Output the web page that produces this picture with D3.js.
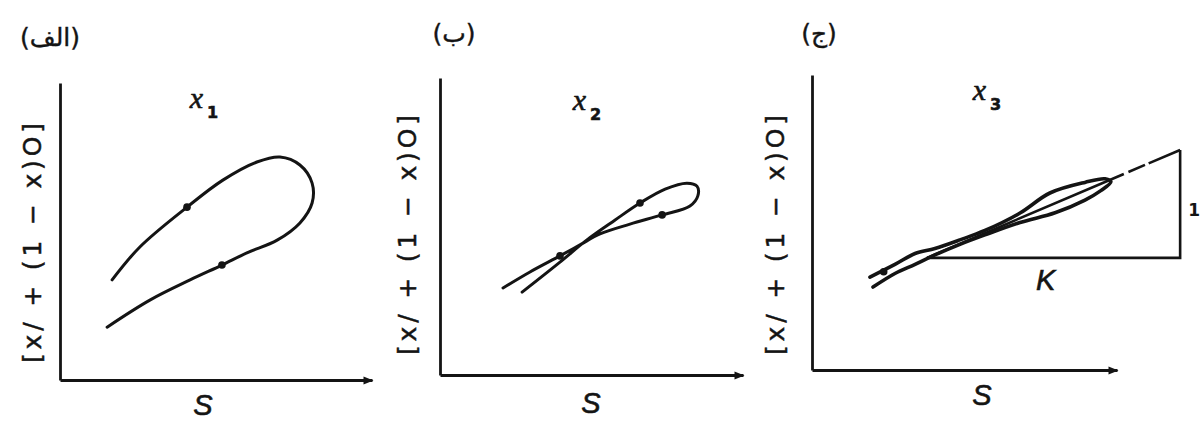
<!DOCTYPE html>
<html>
<head>
<meta charset="utf-8">
<script src="https://cdn.jsdelivr.net/npm/d3@7"></script>
<style>
  body { margin: 0; background: #fff; }
</style>
</head>
<body>
<script>
const svgW = 1201;
const svgH = 422;

// labels
const panelTags = ['(الف)', '(ب)', '(ج)'];
const varSubs = ['1', '2', '3'];
const yLabel = '[x/ + (1 − x)O]';
const xLabel = 'S';

// loop curves, axis units (S, y) on 0..10
const loop1 = [[1.67,3.37],[2.56,4.48],[4.07,5.82],[5.22,6.73],[6.31,7.34],[7.05,7.51],
  [7.69,7.24],[8.08,6.63],[8.08,5.96],[7.69,5.29],[6.96,4.71],[5.99,4.28],[5.19,3.87],
  [4.17,3.37],[2.88,2.69],[1.51,1.78]];
const dots1 = [[4.07,5.82],[5.19,3.87]];

const loop2 = [[2.71,2.79],[3.96,3.80],[4.85,4.55],[5.78,5.22],[6.60,5.79],[7.43,6.26],
  [8.15,6.46],[8.48,6.36],[8.51,6.03],[8.25,5.69],[7.33,5.39],[6.27,5.08],[5.28,4.75],
  [4.62,4.38],[3.96,4.01],[2.97,3.47],[2.08,2.93]];
const dots2 = [[6.60,5.79],[7.33,5.39],[3.96,4.01]];

const loop3 = [[1.90,3.15],[2.72,3.58],[3.38,3.95],[4.03,4.12],[4.85,4.41],[5.67,4.73],
  [6.82,5.32],[7.80,6.00],[8.95,6.36],[9.61,6.48],[9.80,6.38],[9.47,6.08],[8.95,5.76],
  [7.97,5.33],[6.82,5.00],[5.67,4.58],[4.85,4.26],[4.03,3.90],[3.38,3.58],[2.72,3.27],
  [2.00,2.81]];
const dots3 = [[2.35,3.33]];

// slope triangle (K across, 1 up)
const slopeTri = [[3.77,3.80],[12.07,7.46],[12.07,3.80]];

const loops = [loop1, loop2, loop3];
const dots = [dots1, dots2, dots3];

// panel frames (pixels)
const panels = [
  { ox: 60,  oy: 380, xEnd: 372,  yTop: 83, tag: [50, 46],  v: [204, 108], s: [203, 415], yl: [32, 243] },
  { ox: 440, oy: 375, xEnd: 743,  yTop: 78, tag: [454, 42], v: [587, 110], s: [591, 413], yl: [407, 235] },
  { ox: 812, oy: 370, xEnd: 1117, yTop: 75, tag: [819, 42], v: [987, 100], s: [982, 405], yl: [775, 235] }
];

const ink = '#141414';

const svg = d3.select('body')
  .append('svg')
  .attr('width', svgW)
  .attr('height', svgH)
  .style('background', '#fff');

svg.append('defs').append('marker')
  .attr('id', 'arrow')
  .attr('viewBox', '0 0 10 10')
  .attr('refX', 9).attr('refY', 5)
  .attr('markerWidth', 14).attr('markerHeight', 10)
  .attr('markerUnits', 'userSpaceOnUse')
  .attr('orient', 'auto')
  .append('path')
  .attr('d', 'M0,1 L10,5 L0,9 Z')
  .attr('fill', ink);

panels.forEach((p, i) => {
  const x = d3.scaleLinear().domain([0, 10]).range([p.ox, p.xEnd]);
  const y = d3.scaleLinear().domain([0, 10]).range([p.oy, p.yTop]);
  const g = svg.append('g');

  // axes
  const xAxis = g.append('g')
    .attr('transform', `translate(0, ${p.oy})`)
    .call(d3.axisBottom(x).ticks(0).tickSizeOuter(0));
  xAxis.select('.domain')
    .attr('stroke', ink).attr('stroke-width', 2.8)
    .attr('marker-end', 'url(#arrow)');

  const yAxis = g.append('g')
    .attr('transform', `translate(${p.ox}, 0)`)
    .call(d3.axisLeft(y).ticks(0).tickSizeOuter(0));
  yAxis.select('.domain')
    .attr('stroke', ink).attr('stroke-width', 2.8);

  // slope triangle in panel 3
  if (i === 2) {
    const tri = slopeTri.map(d => [x(d[0]), y(d[1])]);
    g.append('path')
      .attr('d', `M${tri[0]}L${tri[1]}`)
      .attr('fill', 'none').attr('stroke', ink).attr('stroke-width', 2.6)
      .attr('stroke-dasharray', '214,5,18,4,80');
    g.append('path')
      .attr('d', `M${tri[1]}L${tri[2]}L${tri[0]}`)
      .attr('fill', 'none').attr('stroke', ink).attr('stroke-width', 2.6);
    g.append('text')
      .attr('x', (tri[0][0] + tri[2][0]) / 2 - 8).attr('y', tri[2][1] + 32)
      .attr('text-anchor', 'middle')
      .attr('font-family', 'Liberation Sans, sans-serif')
      .attr('font-style', 'italic').attr('font-size', 29)
      .attr('stroke', ink).attr('stroke-width', 0.6)
      .attr('fill', ink).text('K');
    g.append('text')
      .attr('x', tri[1][0] + 8).attr('y', (tri[1][1] + tri[2][1]) / 2 + 12)
      .attr('font-family', 'DejaVu Sans, sans-serif')
      .attr('font-weight', 'bold').attr('font-size', 17)
      .attr('fill', ink).text('1');
  }

  // loop
  const line = d3.line()
    .x(d => x(d[0]))
    .y(d => y(d[1]))
    .curve(d3.curveCatmullRom.alpha(0.5));

  g.append('path')
    .datum(loops[i])
    .attr('d', line)
    .attr('fill', 'none')
    .attr('stroke', ink)
    .attr('stroke-width', i === 2 ? 3.6 : 3)
    .attr('stroke-linecap', 'round');

  g.selectAll('circle.dot')
    .data(dots[i])
    .enter()
    .append('circle')
    .attr('class', 'dot')
    .attr('cx', d => x(d[0]))
    .attr('cy', d => y(d[1]))
    .attr('r', 3.8)
    .attr('fill', ink);

  // texts
  g.append('text')
    .attr('x', p.tag[0]).attr('y', p.tag[1])
    .attr('text-anchor', 'middle')
    .attr('font-family', 'DejaVu Sans, sans-serif')
    .attr('font-size', 25)
    .attr('stroke', ink).attr('stroke-width', 0.4)
    .attr('fill', ink)
    .text(panelTags[i]);

  const v = g.append('text')
    .attr('x', p.v[0]).attr('y', p.v[1])
    .attr('text-anchor', 'middle')
    .attr('stroke', ink).attr('stroke-width', 0.6)
    .attr('fill', ink);
  v.append('tspan')
    .attr('font-family', 'Liberation Serif, serif')
    .attr('font-style', 'italic')
    .attr('font-size', 30)
    .text('x');
  v.append('tspan')
    .attr('dx', 4).attr('dy', 10)
    .attr('font-family', 'DejaVu Sans, sans-serif')
    .attr('font-weight', 'bold')
    .attr('font-size', 16)
    .text(varSubs[i]);

  g.append('text')
    .attr('x', p.s[0]).attr('y', p.s[1])
    .attr('text-anchor', 'middle')
    .attr('font-family', 'Liberation Sans, sans-serif')
    .attr('font-style', 'italic')
    .attr('font-size', 29)
    .attr('stroke', ink).attr('stroke-width', 0.6)
    .attr('fill', ink)
    .text(xLabel);

  g.append('text')
    .attr('transform', `translate(${p.yl[0]}, ${p.yl[1]}) rotate(-90)`)
    .attr('text-anchor', 'middle')
    .attr('dy', '0.35em')
    .attr('font-family', 'DejaVu Sans, sans-serif')
    .attr('font-size', 25)
    .attr('textLength', 240)
    .attr('lengthAdjust', 'spacing')
    .attr('stroke', ink).attr('stroke-width', 0.5)
    .attr('fill', ink)
    .text(yLabel);
});
</script>
</body>
</html>
